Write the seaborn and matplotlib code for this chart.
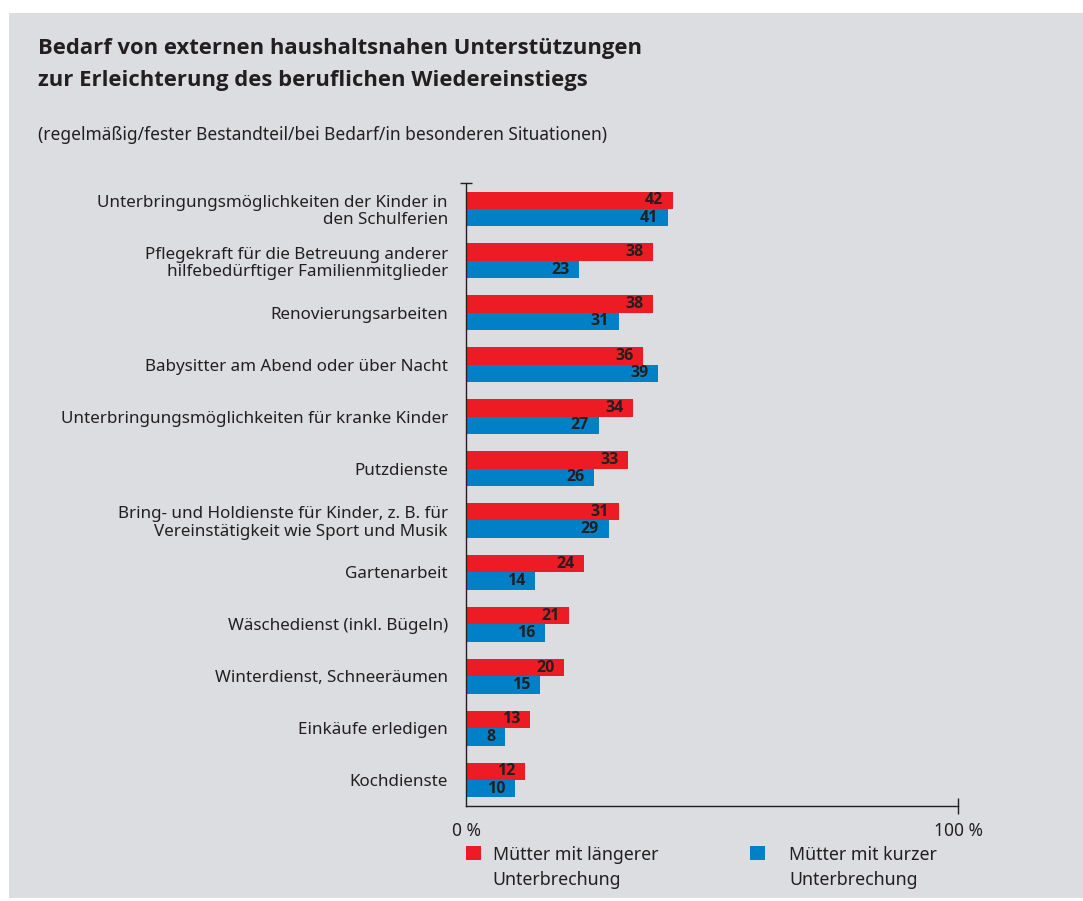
import matplotlib
matplotlib.use("Agg")
import matplotlib.pyplot as plt
import matplotlib.ticker as mticker
from matplotlib.patches import Rectangle
import pandas as pd
import seaborn as sns

categories = [
    "Unterbringungsmöglichkeiten der Kinder in\nden Schulferien",
    "Pflegekraft für die Betreuung anderer\nhilfebedürftiger Familienmitglieder",
    "Renovierungsarbeiten",
    "Babysitter am Abend oder über Nacht",
    "Unterbringungsmöglichkeiten für kranke Kinder",
    "Putzdienste",
    "Bring- und Holdienste für Kinder, z. B. für\nVereinstätigkeit wie Sport und Musik",
    "Gartenarbeit",
    "Wäschedienst (inkl. Bügeln)",
    "Winterdienst, Schneeräumen",
    "Einkäufe erledigen",
    "Kochdienste",
]
laengere = [42, 38, 38, 36, 34, 33, 31, 24, 21, 20, 13, 12]
kurze = [41, 23, 31, 39, 27, 26, 29, 14, 16, 15, 8, 10]
series = ["Mütter mit längerer\nUnterbrechung", "Mütter mit kurzer\nUnterbrechung"]
x_ticks = [0, 100]
x_ticklabels = ["0 %", "100 %"]

title = ("Bedarf von externen haushaltsnahen Unterstützungen\n"
         "zur Erleichterung des beruflichen Wiedereinstiegs")
subtitle = "(regelmäßig/fester Bestandteil/bei Bedarf/in besonderen Situationen)"

RED = "#ed1c24"
BLUE = "#0080c6"
PANEL = "#dcdde0"
INK = "#231f20"
BOLD_FONT = ["Open Sans", "Lato", "DejaVu Sans"]

df = pd.DataFrame({
    "kategorie": categories * 2,
    "wert": laengere + kurze,
    "gruppe": [series[0]] * len(categories) + [series[1]] * len(categories),
})

sns.set_style("white")
plt.rcParams["font.family"] = ["Noto Sans", "DejaVu Sans"]
plt.rcParams["text.color"] = INK

W, H = 1083, 901
fig = plt.figure(figsize=(W / 100, H / 100), dpi=100)
fig.patches.append(Rectangle((9 / W, 1 - 898 / H), 1 - 9 / W, (898 - 13) / H,
                             transform=fig.transFigure, facecolor=PANEL,
                             edgecolor="none", zorder=-10))

ax = fig.add_axes([466 / W, 1 - 806 / H, (958 - 466) / W, (806 - 183) / H])
ax.set_facecolor("none")

sns.barplot(data=df, y="kategorie", x="wert", hue="gruppe", orient="h",
            palette=[RED, BLUE], width=0.67, saturation=1, linewidth=0,
            legend=False, ax=ax)

for cont in ax.containers:
    labels = ax.bar_label(cont, padding=-7, fontsize=11.5, fontweight="bold",
                          color=INK, family=BOLD_FONT)
    for t in labels:
        t.set_ha("right")

ax.set_xlim(0, 100)
ax.set_ylim(len(categories) - 0.5, -0.5)
ax.set_xlabel("")
ax.set_ylabel("")

ax.set_xticks(x_ticks)
ax.set_xticklabels(x_ticklabels)
ax.tick_params(axis="x", bottom=True, direction="inout", length=11, width=1,
               color=INK, labelsize=12.5, labelcolor=INK, pad=6)
ax.xaxis.get_major_ticks()[0].tick1line.set_visible(False)

ax.tick_params(axis="y", left=True, length=0, labelsize=12.25, labelcolor=INK, pad=13)
ax.yaxis.set_minor_locator(mticker.FixedLocator([-0.5]))
ax.tick_params(axis="y", which="minor", left=True, direction="inout", length=8,
               width=1, color=INK)
for lab in ax.get_yticklabels():
    lab.set_linespacing(1.1)

for side in ["top", "right"]:
    ax.spines[side].set_visible(False)
for side in ["left", "bottom"]:
    ax.spines[side].set_color(INK)
    ax.spines[side].set_linewidth(1)

# legend: one entry per block, like the original layout
handles = [Rectangle((0, 0), 1, 1, facecolor=c, edgecolor="none") for c in (RED, BLUE)]
anchors = [(466 / W, 1 - 846 / H), (750 / W, 1 - 846 / H)]
pads = [0.65, 1.35]
legends = []
for h, lab, anc, pad in zip(handles, series, anchors, pads):
    leg = ax.legend([h], [lab], frameon=False, loc="upper left",
                    bbox_to_anchor=anc, bbox_transform=fig.transFigure,
                    borderpad=0, borderaxespad=0, handlelength=0.85,
                    handleheight=0.85, handletextpad=pad, fontsize=12.8,
                    labelcolor=INK)
    for t in leg.get_texts():
        t.set_linespacing(1.5)
    for col in leg._legend_handle_box.get_children():
        for row in col.get_children():
            row.align = "top"
    legends.append(leg)
for leg in legends[:-1]:
    ax.add_artist(leg)

fig.text(38 / W, 1 - 38 / H, title, fontsize=15.8, fontweight="bold", va="top",
         linespacing=1.68, color=INK, family=BOLD_FONT)
fig.text(38 / W, 1 - 135 / H, subtitle, fontsize=12.5, va="center", color=INK)

fig.savefig("out.png", dpi=100)
